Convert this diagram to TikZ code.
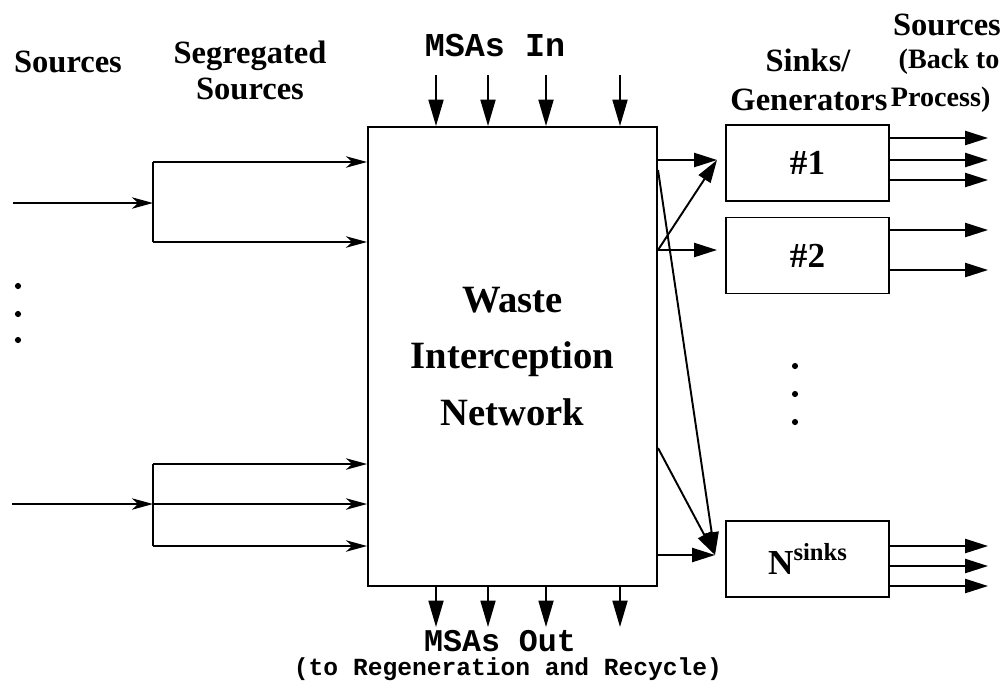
\documentclass[tikz,border=0pt]{standalone}
\usepackage{fontspec}
\setmainfont{Liberation Serif}
\setmonofont{Liberation Mono}
\usepackage{tikz}
\usetikzlibrary{arrows.meta,positioning,calc}

\begin{document}
\begin{tikzpicture}[x=0.02cm, y=-0.02cm, line width=1.1pt,
    box/.style={draw, line width=1.1pt, inner sep=0pt},
    sinkbox/.style={box, minimum width=3.26cm, minimum height=1.52cm, font=\fontsize{20}{22}\selectfont\bfseries},
    head/.style={font=\fontsize{18.5}{20}\selectfont\bfseries, align=center},
    srcarrow/.style={-{Stealth[length=12pt, width=6.5pt, inset=3.5pt]}},
    msaarrow/.style={-{Triangle[length=15pt, width=8.5pt]}},
    linkarrow/.style={-{Triangle[length=13pt, width=8pt]}},
    outarrow/.style={-{Triangle[length=13pt, width=8pt]}},
    dot/.style={circle, fill, inner sep=0pt, minimum size=3.5pt}]
\useasboundingbox (0,0) rectangle (1006,680);

% main interception block
\node[box, minimum width=5.78cm, minimum height=9.18cm, align=center,
      font=\fontsize{22}{32}\selectfont\bfseries] (win) at (512.5,356.5) {Waste\\Interception\\Network};

% sinks / generators
\node[sinkbox] (k1) at (807.5,163) {\#1};
\node[sinkbox] (k2) at (807.5,255.5) {\#2};
\node[sinkbox] (kN) at (807.5,559) {N\raisebox{0.9ex}{\fontsize{14}{16}\selectfont sinks}};

% headings
\node[head] (hsrc) at (68,62) {Sources};
\node[head, font=\fontsize{18.5}{20.5}\selectfont\bfseries] (hseg) at (250,70) {Segregated\\Sources};
\node[font=\fontsize{19}{20}\selectfont\ttfamily\bfseries] (hin) at (495,45) {MSAs In};
\node[head] (hsink) at (808,60) {Sinks/};
\node[head] (hgen) at (809,100) {Generators};
\node[head] (hback) at (947,25) {Sources};
\node[font=\fontsize{16}{18}\selectfont\bfseries] (hback2) at (949,62) {(Back to};
\node[font=\fontsize{16}{18}\selectfont\bfseries, anchor=west, inner sep=0pt] (hback3) at (890,100) {Process)};
\node[font=\fontsize{18}{20}\selectfont\ttfamily\bfseries, anchor=base, inner sep=0pt] (hout) at (500,651) {MSAs Out};
\node[font=\fontsize{14}{16}\selectfont\ttfamily\bfseries, anchor=base, inner sep=0pt] (hout2) at (508,675) {(to Regeneration and Recycle)};

% sources split into segregated sources
\coordinate (s1) at (13,203);
\coordinate (j1) at (153,203);
\coordinate (j1a) at (153,162);
\coordinate (j1b) at (153,242);
\coordinate (s2) at (12,504);
\coordinate (j2) at (153,504);
\coordinate (j2a) at (153,464);
\coordinate (j2b) at (153,546);
\draw[srcarrow] (s1) -- (j1);
\draw (j1a) -- (j1b);
\draw[srcarrow] (j1a) -- (win.west |- j1a);
\draw[srcarrow] (j1b) -- (win.west |- j1b);
\draw[srcarrow] (s2) -- (j2);
\draw (j2a) -- (j2b);
\draw[srcarrow] (j2a) -- (win.west |- j2a);
\draw[srcarrow] (j2) -- (win.west |- j2);
\draw[srcarrow] (j2b) -- (win.west |- j2b);
\node[dot] (d1) at (18,286) {};
\node[dot] (d2) at (18,314) {};
\node[dot] (d3) at (18,340) {};

% mass separating agents in and out
\foreach \x in {436,488,546,620}{
  \draw[msaarrow] (\x,75) -- (win.north -| \x,0);
  \draw[msaarrow] (win.south -| \x,0) -- (\x,627);
}

% network to sinks
\coordinate (o1) at (658,160);
\coordinate (o2) at (658,250);
\coordinate (o3) at (658,170);
\coordinate (o4) at (658,448);
\coordinate (o5) at (658,555);
\coordinate (t1) at (717,160);
\coordinate (t2) at (717,250);
\coordinate (tN) at (715,555);
\draw[linkarrow] (o1) -- (t1);
\draw[linkarrow] (o2) -- (t1);
\draw[linkarrow] (o2) -- (t2);
\draw[linkarrow] (o3) -- (tN);
\draw[linkarrow] (o4) -- (tN);
\draw[linkarrow] (o5) -- (tN);
\node[dot] (d4) at (795,366) {};
\node[dot] (d5) at (795,394) {};
\node[dot] (d6) at (795,422) {};

% back to process
\foreach \y in {138,160,180} \draw[outarrow] (k1.east |- 0,\y) -- (988,\y);
\foreach \y in {230,270} \draw[outarrow] (k2.east |- 0,\y) -- (988,\y);
\foreach \y in {546,566,586} \draw[outarrow] (kN.east |- 0,\y) -- (988,\y);
\end{tikzpicture}
\end{document}
